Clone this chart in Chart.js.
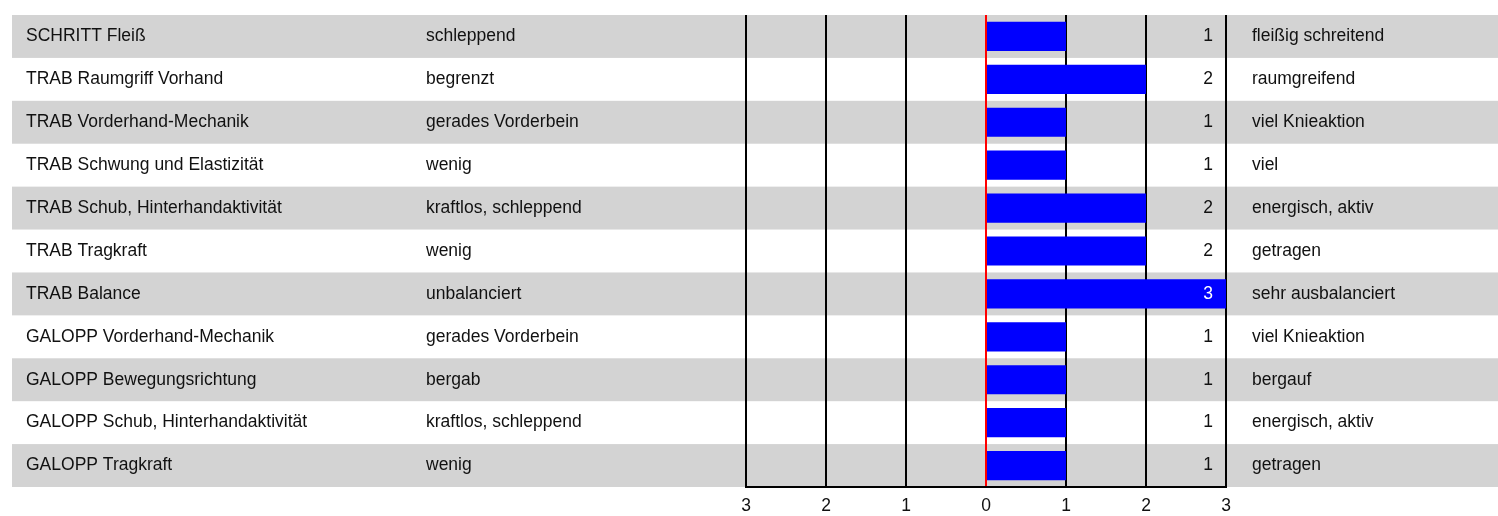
<!DOCTYPE html>
<html>
<head>
<meta charset="utf-8">
<script src="https://cdn.jsdelivr.net/npm/chart.js@4/dist/chart.umd.min.js"></script>
<style>
  html, body { margin: 0; padding: 0; background: #fff; }
  canvas { display: block; }
</style>
</head>
<body>
<canvas id="c" width="1498" height="516"></canvas>
<script>
const categories = [
  "SCHRITT Fleiß",
  "TRAB Raumgriff Vorhand",
  "TRAB Vorderhand-Mechanik",
  "TRAB Schwung und Elastizität",
  "TRAB Schub, Hinterhandaktivität",
  "TRAB Tragkraft",
  "TRAB Balance",
  "GALOPP Vorderhand-Mechanik",
  "GALOPP Bewegungsrichtung",
  "GALOPP Schub, Hinterhandaktivität",
  "GALOPP Tragkraft"
];
const leftLabels = [
  "schleppend",
  "begrenzt",
  "gerades Vorderbein",
  "wenig",
  "kraftlos, schleppend",
  "wenig",
  "unbalanciert",
  "gerades Vorderbein",
  "bergab",
  "kraftlos, schleppend",
  "wenig"
];
const rightLabels = [
  "fleißig schreitend",
  "raumgreifend",
  "viel Knieaktion",
  "viel",
  "energisch, aktiv",
  "getragen",
  "sehr ausbalanciert",
  "viel Knieaktion",
  "bergauf",
  "energisch, aktiv",
  "getragen"
];
const values = [1, 2, 1, 1, 2, 2, 3, 1, 1, 1, 1];
const tickValues = [-3, -2, -1, 0, 1, 2, 3];

const FAMILY = '"Liberation Sans", Arial, sans-serif';
const FONT = '17.5px ' + FAMILY;

const tablePlugin = {
  id: 'tablePlugin',
  beforeDraw(chart) {
    const ctx = chart.ctx;
    const y = chart.scales.y;
    const n = categories.length;
    const step = (y.getPixelForValue(1) - y.getPixelForValue(0));
    ctx.save();
    for (let i = 0; i < n; i++) {
      if (i % 2 === 0) {
        const cy = y.getPixelForValue(i);
        ctx.fillStyle = '#d3d3d3';
        ctx.fillRect(12, cy - step / 2, chart.width - 12, step);
      }
    }
    ctx.restore();
  },
  afterDatasetsDraw(chart) {
    const ctx = chart.ctx;
    const y = chart.scales.y;
    const x = chart.scales.x;
    ctx.save();
    ctx.font = FONT;
    ctx.textBaseline = 'middle';
    for (let i = 0; i < categories.length; i++) {
      const cy = y.getPixelForValue(i);
      ctx.fillStyle = '#111';
      ctx.textAlign = 'left';
      ctx.fillText(categories[i], 26, cy);
      ctx.fillText(leftLabels[i], 426, cy);
      ctx.fillText(rightLabels[i], x.right + 26, cy);
      ctx.textAlign = 'right';
      ctx.fillStyle = values[i] >= 3 ? '#fff' : '#111';
      ctx.fillText(String(values[i]), x.right - 13, cy);
    }
    ctx.restore();
  }
};

new Chart(document.getElementById('c'), {
  type: 'bar',
  data: {
    labels: categories,
    datasets: [{
      data: values,
      backgroundColor: '#0000ff',
      borderWidth: 0,
      barPercentage: 0.68,
      categoryPercentage: 1.0
    }]
  },
  options: {
    indexAxis: 'y',
    responsive: false,
    animation: false,
    devicePixelRatio: 1,
    layout: { padding: { left: 746, right: 272, top: 15, bottom: 0 } },
    plugins: {
      legend: { display: false },
      tooltip: { enabled: false }
    },
    scales: {
      y: {
        display: false,
        grid: { display: false }
      },
      x: {
        min: -3,
        max: 3,
        afterBuildTicks(scale) {
          scale.ticks = tickValues.map(v => ({ value: v }));
        },
        afterFit(scale) { scale.height = 29; },
        grid: {
          color: (c) => (c.tick && c.tick.value === 0) ? '#ff0000' : '#000000',
          lineWidth: 2,
          drawTicks: false
        },
        border: { display: true, color: '#000', width: 2 },
        ticks: {
          padding: 9,
          color: '#111',
          font: { family: FAMILY, size: 17.5 },
          callback: (v) => String(Math.abs(v))
        }
      }
    }
  },
  plugins: [tablePlugin]
});
</script>
</body>
</html>
